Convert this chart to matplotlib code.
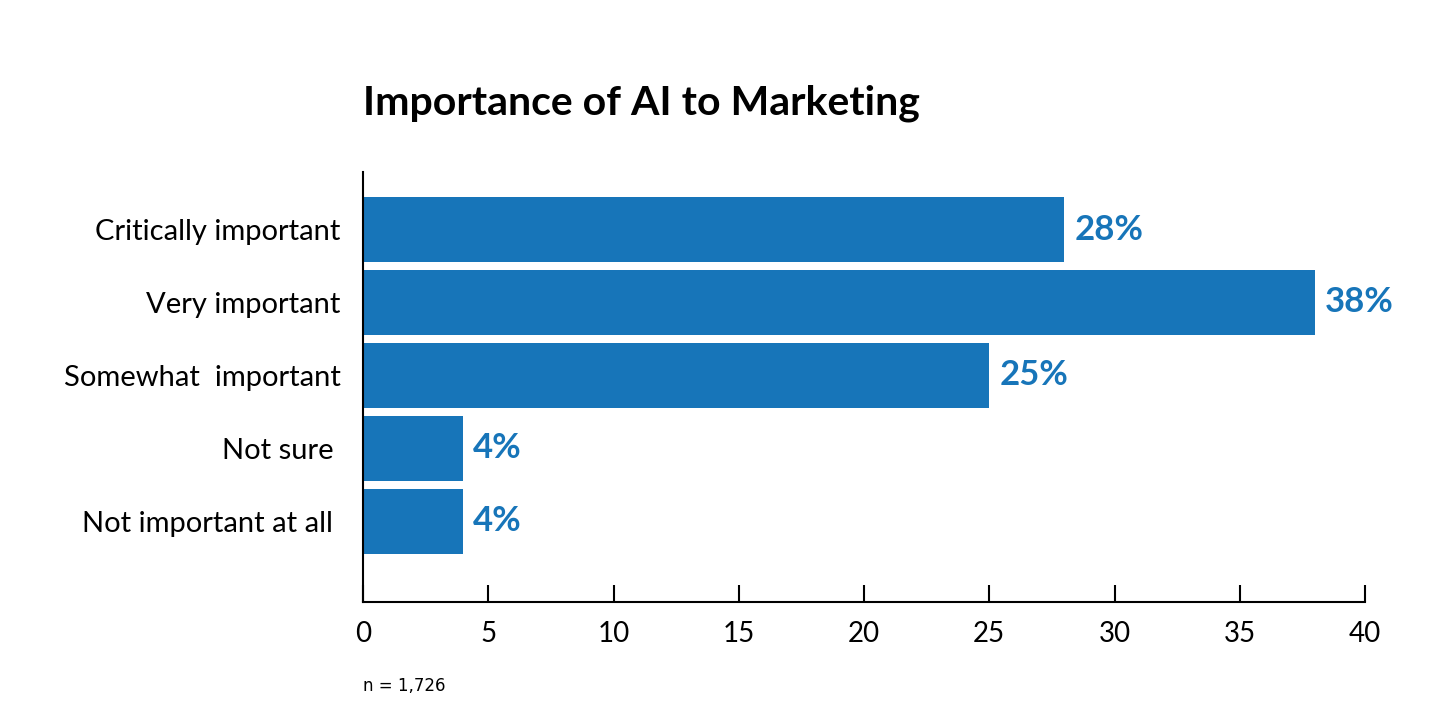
import matplotlib.pyplot as plt

# survey data, top to bottom
categories = ['Critically important', 'Very important', 'Somewhat  important',
              'Not sure ', 'Not important at all ']
values = [28, 38, 25, 4, 4]
value_labels = ['28%', '38%', '25%', '4%', '4%']
x_ticks = [0, 5, 10, 15, 20, 25, 30, 35, 40]

blue = '#1775b9'
plt.rcParams['font.family'] = ['Lato', 'DejaVu Sans']

fig = plt.figure(figsize=(14.44, 7.25), dpi=100)
ax = fig.add_axes([363 / 1444, 1 - 602 / 725, (1365 - 363) / 1444, (602 - 172) / 725])

pos = list(range(len(categories)))
ax.barh(pos, values, height=0.89, color=blue)
for p, v, lab in zip(pos, values, value_labels):
    ax.text(v + 0.4, p, lab, va='center', ha='left', color=blue,
            fontsize=25, fontweight='bold')

ax.set_xlim(0, 40)
ax.set_ylim(5.11, -0.79)
ax.set_yticks(pos)
ax.set_yticklabels(categories, fontsize=21)
ax.set_xticks(x_ticks)
ax.set_xticklabels([str(t) for t in x_ticks], fontsize=20)
ax.tick_params(axis='y', length=0, pad=16)
ax.tick_params(axis='x', direction='in', length=12, width=1.5, pad=14)

for s in ['top', 'right']:
    ax.spines[s].set_visible(False)
for s in ['left', 'bottom']:
    ax.spines[s].set_linewidth(1.5)

fig.text(363 / 1444, 1 - 103 / 725, 'Importance of AI to Marketing',
         fontsize=29.5, fontweight='bold', va='center', ha='left')
fig.text(363 / 1444, 1 - 686 / 725, 'n = 1,726', fontsize=12,
         family='DejaVu Sans', va='center', ha='left')

plt.savefig('out.png', dpi=100)
